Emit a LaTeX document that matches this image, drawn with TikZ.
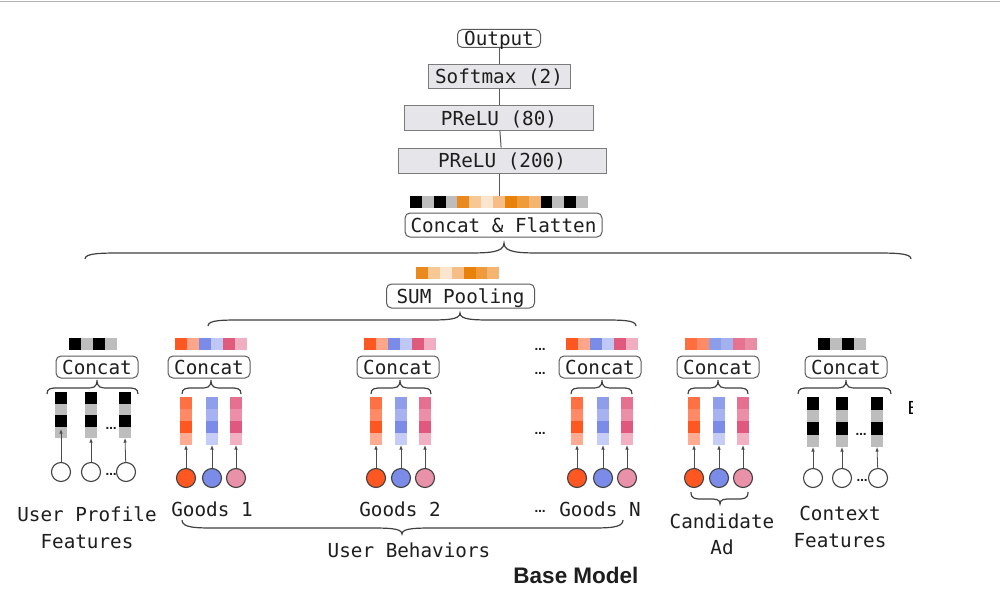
\documentclass[tikz,border=0pt]{standalone}
\usepackage{fontspec}
\setmonofont{DejaVu Sans Mono}
\setsansfont{Liberation Sans}
\newfontfamily\dotfont{DejaVu Sans}
\usetikzlibrary{arrows.meta}
\definecolor{txtc}{HTML}{1E1E1E}
\definecolor{linec}{HTML}{5A5A5A}
\definecolor{boxfill}{HTML}{E6E6EA}
\definecolor{gK}{HTML}{000000}
\definecolor{gG}{HTML}{BDBDBD}
% vector colours
\definecolor{vO}{HTML}{FF5722}\definecolor{vOl}{HTML}{FFA68A}
\definecolor{vB}{HTML}{7B8CE8}\definecolor{vBl}{HTML}{BFC8F5}
\definecolor{vP}{HTML}{E05A7E}\definecolor{vPl}{HTML}{F0AEC0}
\definecolor{aO}{HTML}{FF6E40}\definecolor{aOl}{HTML}{FF8A65}
\definecolor{aB}{HTML}{8C9EEA}\definecolor{aBl}{HTML}{A3B1F0}
\definecolor{aP}{HTML}{E5738F}\definecolor{aPl}{HTML}{EA8EA6}
% column colours
\definecolor{cOa}{HTML}{FF7043}\definecolor{cOb}{HTML}{FF8A65}\definecolor{cOc}{HTML}{FF5722}\definecolor{cOd}{HTML}{FFAB91}
\definecolor{cBa}{HTML}{8E9EEB}\definecolor{cBb}{HTML}{A6B3F0}\definecolor{cBc}{HTML}{7B8CE8}\definecolor{cBd}{HTML}{C5CDF6}
\definecolor{cPa}{HTML}{E6708F}\definecolor{cPb}{HTML}{EC8EA7}\definecolor{cPc}{HTML}{E0587D}\definecolor{cPd}{HTML}{F2B1C3}
% circle colours
\definecolor{kO}{HTML}{FF5722}\definecolor{kB}{HTML}{7B8CE8}\definecolor{kP}{HTML}{E891A8}
% sum pooling colours
\definecolor{sA}{HTML}{EA8A1E}\definecolor{sB}{HTML}{F8C894}\definecolor{sC}{HTML}{FCE5CF}
\definecolor{sD}{HTML}{F6BD85}\definecolor{sE}{HTML}{E8820A}\definecolor{sF}{HTML}{EF9B3C}\definecolor{sG}{HTML}{F4B570}

\tikzset{
  txt/.style={font=\ttfamily\fontsize{19.3}{22}\selectfont, text=txtc},
  rbox/.style={txt, draw=linec, line width=1pt, rounded corners=5pt, fill=white,
     inner sep=0pt, text height=16pt, text depth=2pt},
  gbox/.style={txt, draw=linec!80, line width=1pt, fill=boxfill,
     inner sep=0pt, text height=16pt, text depth=2pt},
  lbl/.style={txt, inner sep=0pt, anchor=base},
  circ/.style={circle, draw=black!75, line width=1.1pt, minimum size=19pt, inner sep=0pt},
  arr/.style={-{Latex[length=4.5pt,width=3.5pt]}, draw=black!70, line width=0.8pt},
  vline/.style={draw=linec, line width=1pt},
  brc/.style={draw=black!75, line width=1.2pt},
  dots/.style={font=\dotfont\bfseries\fontsize{11}{12}\selectfont, text=txtc, inner sep=0pt, anchor=base},
  hold/.style={inner sep=0pt, outer sep=0pt}
}

% horizontal vector: x, y, cell w, cell h, colours
\newcommand\hvec[5]{%
  \foreach \cc [count=\i from 0] in {#5} {\fill[\cc] ({#1+\i*#3},#2) rectangle ({#1+(\i+1)*#3},{#2+#4});}}
% vertical column: name, xc, ytop, cell h, colours
\newcommand\vcol[5]{%
  \foreach \cc [count=\i from 0] in {#5} {\fill[\cc] ({#2-6},{#3+\i*#4}) rectangle ({#2+6},{#3+(\i+1)*#4});}
  \node[hold, minimum width=12pt, minimum height={4*#4}, anchor=north] (#1) at (#2,#3) {};}
% brace: x1, x2, xm, y0, flat offset, tip offset, curl width
\newcommand\hbr[7]{%
  \draw[brc] (#1,#4) .. controls (#1,{#4-(#5)}) and ({#1+0.4*#7},{#4-(#5)}) .. ({#1+#7},{#4-(#5)})
    -- ({#3-#7},{#4-(#5)}) .. controls ({#3-0.4*#7},{#4-(#5)}) and (#3,{#4-(#5)}) .. (#3,{#4-(#6)})
    .. controls (#3,{#4-(#5)}) and ({#3+0.4*#7},{#4-(#5)}) .. ({#3+#7},{#4-(#5)})
    -- ({#2-#7},{#4-(#5)}) .. controls ({#2-0.4*#7},{#4-(#5)}) and (#2,{#4-(#5)}) .. (#2,#4);}
% colour embedding group: prefix, x1, x2, x3
\newcommand\embgroup[4]{%
  \vcol{#1ca}{#2}{397}{12}{cOa,cOb,cOc,cOd}
  \vcol{#1cb}{#3}{397}{12}{cBa,cBb,cBc,cBd}
  \vcol{#1cc}{#4}{397}{12}{cPa,cPb,cPc,cPd}
  \node[circ, fill=kO] (#1a) at (#2,478) {};
  \node[circ, fill=kB] (#1b) at (#3,478) {};
  \node[circ, fill=kP] (#1c) at (#4,478) {};
  \draw[arr] (#1a) -- (#1ca.south);
  \draw[arr] (#1b) -- (#1cb.south);
  \draw[arr] (#1c) -- (#1cc.south);}
% concat box with vector above: name, box x, vector x start, colours
\newcommand\concatbox[4]{%
  \hvec{#3}{338}{12}{12}{#4}
  \node[rbox, minimum width=82pt, minimum height=22pt] (#1) at (#2,367) {Concat};}

\begin{document}
\begin{tikzpicture}[x=1pt,y=-1pt]
\useasboundingbox (0,0) rectangle (1000,607);
\fill[white] (0,0) rectangle (1000,607);
\draw[black!30, line width=1.5pt] (0,1.5) -- (1000,1.5);

% ---------- top tower ----------
\node[rbox, minimum width=83pt, minimum height=18pt] (out) at (499,38.5) {Output};
\node[gbox, minimum width=142pt, minimum height=24pt] (soft) at (499,77) {Softmax (2)};
\node[gbox, minimum width=189pt, minimum height=24pt] (p80) at (499,118) {PReLU (80)};
\node[gbox, minimum width=208pt, minimum height=25pt] (p200) at (502,160.5) {PReLU (200)};
\hvec{410}{196}{11.87}{11.5}{gK,gG,gK,gG,sA,sB,sC,sD,sE,sF,sG,gK,gG,gK,gG}
\node[hold, minimum width=178pt, minimum height=11.5pt, anchor=north west] (fvec) at (410,196) {};
\node[rbox, minimum width=197pt, minimum height=24pt] (flat) at (503.5,225) {Concat \& Flatten};
\draw[vline] (out) -- (soft);
\draw[vline] (soft) -- (p80);
\draw[vline] (p80) -- (p200);
\draw[vline] (p200.south -| fvec.north) -- (fvec.north);

% big brace
\hbr{85}{911}{504}{259}{6}{16}{40}

% ---------- sum pooling ----------
\hvec{416}{267}{11.9}{12}{sA,sB,sC,sD,sE,sF,sG}
\node[rbox, minimum width=148pt, minimum height=24pt] (sum) at (460.5,296) {SUM Pooling};
\hbr{208}{636}{460}{326}{6}{13}{35}

% ---------- user profile ----------
\concatbox{cprof}{97}{69}{gK,gG,gK,gG}
\hbr{47}{138}{97}{394}{6}{14}{11}
\vcol{pca}{61}{392}{11.5}{gK,gG,gK,gG}
\vcol{pcb}{91}{392}{11.5}{gK,gG,gK,gG}
\vcol{pcc}{125}{392}{11.5}{gK,gG,gK,gG}
\node[circ, fill=white] (pa) at (61,472) {};
\node[circ, fill=white] (pb) at (91,472) {};
\node[circ, fill=white] (pc) at (126,472) {};
\draw[arr] (pa) -- ([yshift=9pt]pca.south);
\draw[arr] (pb) -- (pcb.south);
\draw[arr] (pc) -- (pcc.south);
\node[dots] (pd1) at (111,429) {…};
\node[dots] (pd2) at (111,475) {…};
\node[lbl] (upf1) at (87,521) {User Profile};
\node[lbl] (upf2) at (87,548) {Features};

% ---------- goods 1 ----------
\concatbox{cg1}{209}{175}{vO,vOl,vB,vBl,vP,vPl}
\hbr{182}{241}{211}{394}{6}{14}{11}
\embgroup{ga}{186}{212}{236}
\node[lbl] (g1l) at (212,516) {Goods 1};

% ---------- goods 2 ----------
\concatbox{cg2}{398}{364}{vO,vOl,vB,vBl,vP,vPl}
\hbr{371}{431}{400}{394}{6}{14}{11}
\embgroup{gb}{376}{401}{425}
\node[lbl] (g2l) at (400,516) {Goods 2};

% ---------- goods N ----------
\concatbox{cgn}{600}{566}{vO,vOl,vB,vBl,vP,vPl}
\hbr{571}{632}{602}{394}{6}{14}{11}
\embgroup{gn}{577}{603}{627}
\node[dots] (nd1) at (540,350) {…};
\node[dots] (nd2) at (540,374) {…};
\node[dots] (nd3) at (540,434) {…};
\node[dots] (nd4) at (540,512) {…};
\node[lbl] (gnl) at (600,516) {Goods N};

% user behaviors brace
\hbr{182}{623}{402}{520}{-8}{-14}{35}
\node[lbl] (ub) at (409,557) {User Behaviors};

% ---------- candidate ad ----------
\concatbox{ccand}{718}{685}{aO,aOl,aB,aBl,aP,aPl}
\hbr{688}{748}{718}{394}{6}{14}{11}
\embgroup{ca}{694}{719}{743}
\hbr{691}{748}{720}{492}{-7}{-12}{11}
\node[lbl] (cl1) at (722,528) {Candidate};
\node[lbl] (cl2) at (722,554) {Ad};

% ---------- context ----------
\concatbox{cctx}{846}{818}{gK,gG,gK,gG}
\hbr{798}{891}{846}{394}{6}{14}{11}
\vcol{xca}{813}{397}{12.5}{gK,gG,gK,gG}
\vcol{xcb}{842}{397}{12.5}{gK,gG,gK,gG}
\vcol{xcc}{877}{397}{12.5}{gK,gG,gK,gG}
\node[circ, fill=white] (xa) at (813,478) {};
\node[circ, fill=white] (xb) at (842,478) {};
\node[circ, fill=white] (xc) at (878,478) {};
\draw[arr] (xa) -- (xca.south);
\draw[arr] (xb) -- (xcb.south);
\draw[arr] (xc) -- (xcc.south);
\node[dots] (xd1) at (861,435) {…};
\node[dots] (xd2) at (862,481) {…};
\node[lbl] (xl1) at (840,520) {Context};
\node[lbl] (xl2) at (840,547) {Features};

% cut-off letter at right
\begin{scope}
  \clip (900,390) rectangle (912.5,425);
  \node[font=\sffamily\fontsize{19}{20}\selectfont, inner sep=0pt, anchor=base west] (ecut) at (907.5,414) {E};
\end{scope}

% title
\node[font=\sffamily\bfseries\fontsize{22.5}{25}\selectfont, text=txtc, inner sep=0pt, anchor=base] (base) at (576,583) {Base Model};
\end{tikzpicture}
\end{document}
